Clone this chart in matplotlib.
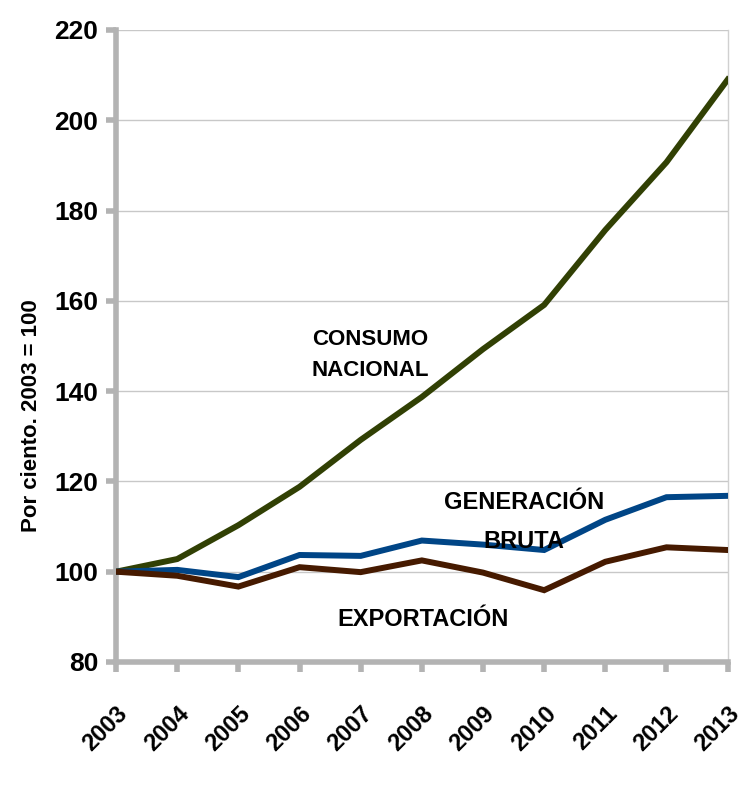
import matplotlib
matplotlib.use('Agg')
import matplotlib.pyplot as plt

# data (index, 2003 = 100)
years = [2003, 2004, 2005, 2006, 2007, 2008, 2009, 2010, 2011, 2012, 2013]
consumo = [100, 102.8, 110.3, 118.8, 129.2, 138.7, 149.3, 159.1, 175.7, 190.7, 209.0]
generacion = [100, 100.4, 98.8, 103.7, 103.5, 106.9, 106.0, 104.8, 111.5, 116.5, 116.8]
exportacion = [100, 99.1, 96.7, 101.0, 99.9, 102.5, 99.8, 95.9, 102.2, 105.4, 104.8]

# narrow bold font if available, else plain Liberation Sans
fam = ['Liberation Sans Narrow', 'Liberation Sans', 'DejaVu Sans']
plt.rcParams['font.family'] = fam

fig = plt.figure(figsize=(7.44, 7.89), dpi=100)
ax = fig.add_axes([0.156, 0.161, 0.822, 0.801])

# lines
ax.plot(years, consumo, color='#314004', lw=4.3, solid_joinstyle='miter', zorder=3)
ax.plot(years, generacion, color='#004586', lw=4.3, solid_joinstyle='miter', zorder=3)
ax.plot(years, exportacion, color='#461a00', lw=4.3, solid_joinstyle='miter', zorder=3)

ax.set_xlim(2003, 2013)
ax.set_ylim(80, 220)
ax.set_yticks(range(80, 221, 20))
ax.set_xticks(years)
ax.grid(axis='y', color='#c8c8c8', lw=1)
ax.set_axisbelow(True)

# spines
for s in ['left', 'bottom']:
    ax.spines[s].set_color('#b3b3b3')
    ax.spines[s].set_linewidth(4)
ax.spines['top'].set_visible(False)
ax.spines['right'].set_color('#d0d0d0')
ax.spines['right'].set_linewidth(1)
ax.tick_params(axis='both', color='#b3b3b3', width=4, length=7, direction='out')
ax.tick_params(axis='y', pad=6)
ax.tick_params(axis='x', pad=22)

ax.set_yticklabels([str(v) for v in range(80, 221, 20)], fontsize=19, fontweight='bold')
ax.set_xticklabels([str(y) for y in years], fontsize=17, fontweight='bold',
                   rotation=45, ha='right', rotation_mode='anchor')
ax.set_ylabel('Por ciento. 2003 = 100', fontsize=16, fontweight='bold')
ax.yaxis.set_label_coords(-0.121, 0.39)

# series labels
ax.text(2007.15, 148, 'CONSUMO\nNACIONAL', fontsize=16, fontweight='bold',
        ha='center', va='center', linespacing=1.65)
ax.text(2009.67, 111, 'GENERACIÓN\nBRUTA', fontsize=17, fontweight='bold',
        ha='center', va='center', linespacing=1.9, zorder=4)
ax.text(2008.02, 89.5, 'EXPORTACIÓN', fontsize=17, fontweight='bold',
        ha='center', va='center')

fig.savefig('out.png', dpi=100)
